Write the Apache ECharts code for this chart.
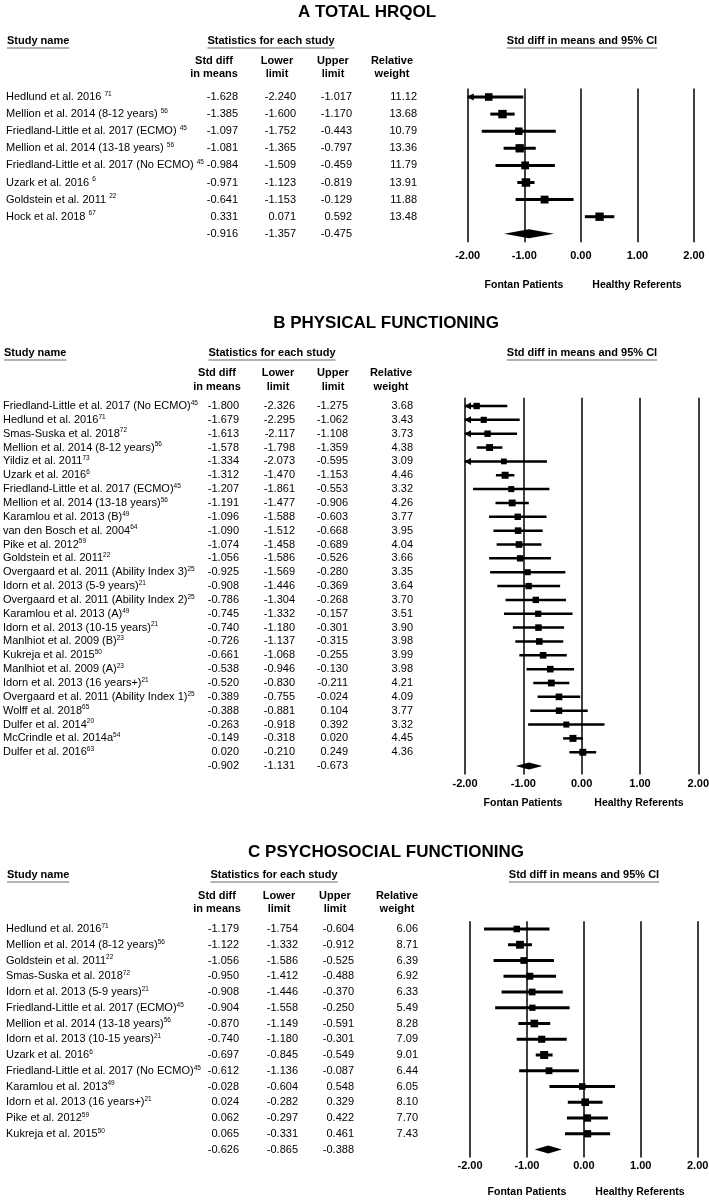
<!DOCTYPE html>
<html><head><meta charset="utf-8">
<script src="https://cdn.jsdelivr.net/npm/echarts@6/dist/echarts.min.js"></script>
<style>html,body{margin:0;padding:0;background:#fff}#c{width:709px;height:1200px}</style>
</head><body><div id="c"></div>
<script>
const FONT = '"Liberation Sans", Arial, Helvetica, sans-serif';

// ---------- Panel A: Total HRQOL ----------
const studiesA = ['Hedlund et al. 2016', 'Mellion et al. 2014 (8-12 years)', 'Friedland-Little et al. 2017 (ECMO)', 'Mellion et al. 2014 (13-18 years)', 'Friedland-Little et al. 2017 (No ECMO)', 'Uzark et al. 2016', 'Goldstein et al. 2011', 'Hock et al. 2018'];
const refsA = ['71', '56', '45', '56', '45', '6', '22', '67'];
const smdA = [-1.628, -1.385, -1.097, -1.081, -0.984, -0.971, -0.641, 0.331];
const lowA = [-2.240, -1.600, -1.752, -1.365, -1.509, -1.123, -1.153, 0.071];
const upA = [-1.017, -1.170, -0.443, -0.797, -0.459, -0.819, -0.129, 0.592];
const weightA = [11.12, 13.68, 10.79, 13.36, 11.79, 13.91, 11.88, 13.48];
const summaryA = [-0.916, -1.357, -0.475];

// ---------- Panel B: Physical functioning ----------
const studiesB = ['Friedland-Little et al. 2017 (No ECMO)', 'Hedlund et al. 2016', 'Smas-Suska et al. 2018', 'Mellion et al. 2014 (8-12 years)', 'Yildiz et al. 2011', 'Uzark et al. 2016', 'Friedland-Little et al. 2017 (ECMO)', 'Mellion et al. 2014 (13-18 years)', 'Karamlou et al. 2013 (B)', 'van den Bosch et al. 2004', 'Pike et al. 2012', 'Goldstein et al. 2011', 'Overgaard et al. 2011 (Ability Index 3)', 'Idorn et al. 2013 (5-9 years)', 'Overgaard et al. 2011 (Ability Index 2)', 'Karamlou et al. 2013 (A)', 'Idorn et al. 2013 (10-15 years)', 'Manlhiot et al. 2009 (B)', 'Kukreja et al. 2015', 'Manlhiot et al. 2009 (A)', 'Idorn et al. 2013 (16 years+)', 'Overgaard et al. 2011 (Ability Index 1)', 'Wolff et al. 2018', 'Dulfer et al. 2014', 'McCrindle et al. 2014a', 'Dulfer et al. 2016'];
const refsB = ['45', '71', '72', '56', '73', '6', '45', '56', '49', '64', '59', '22', '25', '21', '25', '49', '21', '23', '50', '23', '21', '25', '65', '20', '54', '63'];
const smdB = [-1.800, -1.679, -1.613, -1.578, -1.334, -1.312, -1.207, -1.191, -1.096, -1.090, -1.074, -1.056, -0.925, -0.908, -0.786, -0.745, -0.740, -0.726, -0.661, -0.538, -0.520, -0.389, -0.388, -0.263, -0.149, 0.020];
const lowB = [-2.326, -2.295, -2.117, -1.798, -2.073, -1.470, -1.861, -1.477, -1.588, -1.512, -1.458, -1.586, -1.569, -1.446, -1.304, -1.332, -1.180, -1.137, -1.068, -0.946, -0.830, -0.755, -0.881, -0.918, -0.318, -0.210];
const upB = [-1.275, -1.062, -1.108, -1.359, -0.595, -1.153, -0.553, -0.906, -0.603, -0.668, -0.689, -0.526, -0.280, -0.369, -0.268, -0.157, -0.301, -0.315, -0.255, -0.130, -0.211, -0.024, 0.104, 0.392, 0.020, 0.249];
const weightB = [3.68, 3.43, 3.73, 4.38, 3.09, 4.46, 3.32, 4.26, 3.77, 3.95, 4.04, 3.66, 3.35, 3.64, 3.70, 3.51, 3.90, 3.98, 3.99, 3.98, 4.21, 4.09, 3.77, 3.32, 4.45, 4.36];
const summaryB = [-0.902, -1.131, -0.673];

// ---------- Panel C: Psychosocial functioning ----------
const studiesC = ['Hedlund et al. 2016', 'Mellion et al. 2014 (8-12 years)', 'Goldstein et al. 2011', 'Smas-Suska et al. 2018', 'Idorn et al. 2013 (5-9 years)', 'Friedland-Little et al. 2017 (ECMO)', 'Mellion et al. 2014 (13-18 years)', 'Idorn et al. 2013 (10-15 years)', 'Uzark et al. 2016', 'Friedland-Little et al. 2017 (No ECMO)', 'Karamlou et al. 2013', 'Idorn et al. 2013 (16 years+)', 'Pike et al. 2012', 'Kukreja et al. 2015'];
const refsC = ['71', '56', '22', '72', '21', '45', '56', '21', '6', '45', '49', '21', '59', '50'];
const smdC = [-1.179, -1.122, -1.056, -0.950, -0.908, -0.904, -0.870, -0.740, -0.697, -0.612, -0.028, 0.024, 0.062, 0.065];
const lowC = [-1.754, -1.332, -1.586, -1.412, -1.446, -1.558, -1.149, -1.180, -0.845, -1.136, -0.604, -0.282, -0.297, -0.331];
const upC = [-0.604, -0.912, -0.525, -0.488, -0.370, -0.250, -0.591, -0.301, -0.549, -0.087, 0.548, 0.329, 0.422, 0.461];
const weightC = [6.06, 8.71, 6.39, 6.92, 6.33, 5.49, 8.28, 7.09, 9.01, 6.44, 6.05, 8.10, 7.70, 7.43];
const summaryC = [-0.626, -0.865, -0.388];

// ---------- Shared text ----------
const tickValues = [-2, -1, 0, 1, 2];
const tickLabels = ['-2.00', '-1.00', '0.00', '1.00', '2.00'];
const titles = ['A TOTAL HRQOL', 'B PHYSICAL FUNCTIONING', 'C PSYCHOSOCIAL FUNCTIONING'];
const headerLabels = ['Study name', 'Statistics for each study', 'Std diff in means and 95% CI'];
const colHeaders = [['Std diff', 'in means'], ['Lower', 'limit'], ['Upper', 'limit'], ['Relative', 'weight']];
const sideLabels = ['Fontan Patients', 'Healthy Referents'];

// ---------- Layout (positions / styles only) ----------
const layouts = [
  {title: [367, 12], nameX: 6, refSpace: true, headY: 41, statX: 271, ciX: 582, colHeadY: [61, 74],
   colHeadX: [214, 277, 333, 392], colX: [238, 296, 352, 417], row0: 97, rowH: 17.1, yMin: -0.5, yMax: 8.5,
   plotL: 467.7, plotR: 694, labelMargin: 8, footY: 285, footX: [524, 637], sq: 8.5, lw: 3, diaH: 9},
  {title: [386, 323], nameX: 3, refSpace: false, headY: 353, statX: 272, ciX: 582, colHeadY: [373, 387],
   colHeadX: [217, 278, 333, 391], colX: [239, 295, 348, 413], row0: 406, rowH: 13.85, yMin: -0.6, yMax: 26.6,
   plotL: 465, plotR: 698.3, labelMargin: 4, footY: 803, footX: [523, 639], sq: 7, lw: 2.5, diaH: 7},
  {title: [386, 852], nameX: 6, refSpace: false, headY: 875, statX: 274, ciX: 584, colHeadY: [896, 909],
   colHeadX: [217, 279, 335, 397], colX: [239, 298, 354, 418], row0: 929, rowH: 15.75, yMin: -0.5, yMax: 14.5,
   plotL: 470, plotR: 697.7, labelMargin: 3, footY: 1192, footX: [527, 640], sq: 8, lw: 3, diaH: 8}
];

const panels = [
  {studies: studiesA, refs: refsA, smd: smdA, low: lowA, up: upA, w: weightA, sum: summaryA},
  {studies: studiesB, refs: refsB, smd: smdB, low: lowB, up: upB, w: weightB, sum: summaryB},
  {studies: studiesC, refs: refsC, smd: smdC, low: lowC, up: upC, w: weightC, sum: summaryC}
];

const mctx = document.createElement('canvas').getContext('2d');
function textW(t, size, weight) { mctx.font = (weight || 'normal') + ' ' + size + 'px ' + FONT; return mctx.measureText(t).width; }

const grids = [], xAxes = [], yAxes = [], series = [], graphics = [];

panels.forEach((p, k) => {
  const L = layouts[k];
  const top = L.row0 + L.yMin * L.rowH;
  const height = (L.yMax - L.yMin) * L.rowH;
  grids.push({left: L.plotL, top: top, width: L.plotR - L.plotL, height: height, containLabel: false, outerBoundsMode: 'none'});
  xAxes.push({gridIndex: k, type: 'value', min: -2, max: 2, interval: 1,
    axisLine: {show: false}, axisTick: {show: false},
    splitLine: {show: true, lineStyle: {color: '#000', width: 1.5}},
    axisLabel: {margin: L.labelMargin, fontWeight: 'bold', fontSize: 11, color: '#000', fontFamily: FONT,
      showMinLabel: true, showMaxLabel: true, hideOverlap: false,
      formatter: v => tickLabels[tickValues.indexOf(Math.round(v))]}});
  yAxes.push({gridIndex: k, type: 'value', inverse: true, min: L.yMin, max: L.yMax, show: false});

  const wMax = Math.max.apply(null, p.w);
  const n = p.smd.length;

  series.push({
    type: 'custom', xAxisIndex: k, yAxisIndex: k, clip: false, silent: true,
    data: p.smd.map((v, i) => [v, i, p.low[i], p.up[i], p.w[i]]),
    encode: {x: [0, 2, 3], y: 1},
    renderItem: function (params, api) {
      const i = params.dataIndex;
      const v = api.value(0), idx = api.value(1), lo = api.value(2), hi = api.value(3), w = api.value(4);
      const y = api.coord([0, idx])[1];
      const xm = api.coord([v, idx])[0];
      const xl = api.coord([Math.max(lo, -2), idx])[0];
      const xh = api.coord([Math.min(hi, 2), idx])[0];
      const s = L.sq * Math.sqrt(w / wMax);
      const ch = [];
      ch.push({type: 'text', x: L.nameX, y: y, style: {
        text: '{n|' + p.studies[i] + (L.refSpace ? ' ' : '') + '}{s|' + p.refs[i] + '}',
        align: 'left', verticalAlign: 'middle',
        rich: {n: {fontSize: 11, fontFamily: FONT, fill: '#000', lineHeight: 13},
               s: {fontSize: 6.5, fontFamily: FONT, fill: '#000', lineHeight: 7, verticalAlign: 'top'}}}});
      [v, lo, hi].forEach((val, c) => ch.push({type: 'text', x: L.colX[c], y: y, style: {
        text: val.toFixed(3), align: 'right', verticalAlign: 'middle', fontSize: 11, fontFamily: FONT, fill: '#000'}}));
      ch.push({type: 'text', x: L.colX[3], y: y, style: {
        text: w.toFixed(2), align: 'right', verticalAlign: 'middle', fontSize: 11, fontFamily: FONT, fill: '#000'}});
      ch.push({type: 'line', shape: {x1: xl, y1: y, x2: xh, y2: y}, style: {stroke: '#000', lineWidth: L.lw}});
      if (lo < -2) {
        ch.push({type: 'polygon', shape: {points: [[xl - 1, y], [xl + 6, y - 3.5], [xl + 6, y + 3.5]]}, style: {fill: '#000'}});
      }
      if (hi > 2) {
        ch.push({type: 'polygon', shape: {points: [[xh + 1, y], [xh - 6, y - 3.5], [xh - 6, y + 3.5]]}, style: {fill: '#000'}});
      }
      ch.push({type: 'rect', shape: {x: xm - s / 2, y: y - s / 2, width: s, height: s}, style: {fill: '#000'}});
      return {type: 'group', children: ch};
    }
  });

  series.push({
    type: 'custom', xAxisIndex: k, yAxisIndex: k, clip: false, silent: true,
    data: [[p.sum[0], n, p.sum[1], p.sum[2]]],
    encode: {x: [0, 2, 3], y: 1},
    renderItem: function (params, api) {
      const v = api.value(0), idx = api.value(1), lo = api.value(2), hi = api.value(3);
      const y = api.coord([0, idx])[1];
      const xm = api.coord([v, idx])[0], xl = api.coord([lo, idx])[0], xh = api.coord([hi, idx])[0];
      const h = L.diaH / 2;
      const ch = [];
      [v, lo, hi].forEach((val, c) => ch.push({type: 'text', x: L.colX[c], y: y, style: {
        text: val.toFixed(3), align: 'right', verticalAlign: 'middle', fontSize: 11, fontFamily: FONT, fill: '#000'}}));
      ch.push({type: 'polygon', shape: {points: [[xl, y], [xm, y - h], [xh, y], [xm, y + h]]}, style: {fill: '#000'}});
      return {type: 'group', children: ch};
    }
  });

  // static texts
  graphics.push({type: 'text', x: L.title[0], y: L.title[1], style: {text: titles[k], align: 'center', verticalAlign: 'middle',
    fontSize: 17, fontWeight: 'bold', fontFamily: FONT, fill: '#000'}});
  const hx = [L.nameX + 1, L.statX, L.ciX];
  const ha = ['left', 'center', 'center'];
  headerLabels.forEach((t, j) => {
    graphics.push({type: 'text', x: hx[j], y: L.headY, style: {text: t, align: ha[j], verticalAlign: 'middle',
      fontSize: 11, fontWeight: 'bold', fontFamily: FONT, fill: '#000'}});
    const wd = textW(t, 11, 'bold');
    const x1 = ha[j] === 'left' ? hx[j] : hx[j] - wd / 2;
    graphics.push({type: 'line', shape: {x1: x1, y1: L.headY + 7, x2: x1 + wd, y2: L.headY + 7},
      style: {stroke: '#9a9a9a', lineWidth: 1.5}});
  });
  colHeaders.forEach((pair, j) => {
    pair.forEach((t, r) => graphics.push({type: 'text', x: L.colHeadX[j], y: L.colHeadY[r], style: {text: t, align: 'center',
      verticalAlign: 'middle', fontSize: 11, fontWeight: 'bold', fontFamily: FONT, fill: '#000'}}));
  });
  sideLabels.forEach((t, j) => graphics.push({type: 'text', x: L.footX[j], y: L.footY, style: {text: t, align: 'center',
    verticalAlign: 'middle', fontSize: 10.5, fontWeight: 'bold', fontFamily: FONT, fill: '#000'}}));
});

const chart = echarts.init(document.getElementById('c'), null, {renderer: 'canvas'});
chart.setOption({
  animation: false,
  backgroundColor: '#fff',
  grid: grids, xAxis: xAxes, yAxis: yAxes, series: series,
  graphic: {elements: graphics}
});
</script>
</body></html>
